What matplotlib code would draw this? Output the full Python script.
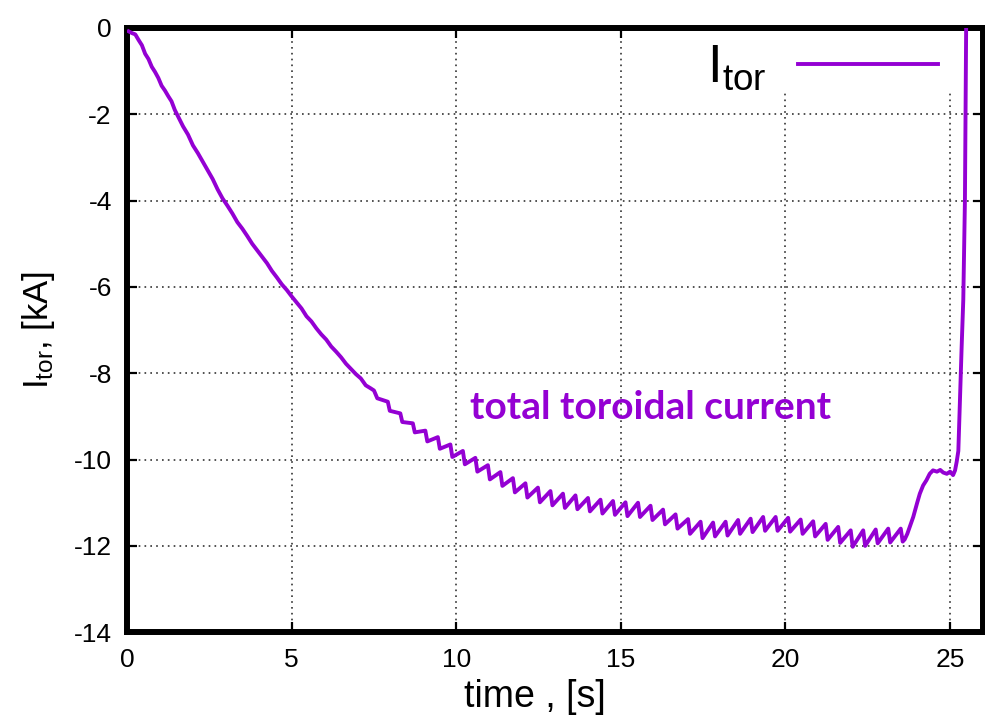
import numpy as np
import matplotlib.pyplot as plt
from matplotlib.patches import Rectangle

plt.rcParams['font.family'] = ['Liberation Sans', 'DejaVu Sans']
plt.rcParams['mathtext.fontset'] = 'custom'
plt.rcParams['mathtext.rm'] = 'Liberation Sans'
plt.rcParams['mathtext.it'] = 'Liberation Sans'
plt.rcParams['axes.unicode_minus'] = False

# time [s] and toroidal current [kA]
time_s = [
    0.05, 0.15, 0.25, 0.35, 0.45, 0.55, 0.65, 0.75, 0.85, 0.95, 1.05, 1.15,
    1.25, 1.35, 1.45, 1.55, 1.70, 1.85, 2.00, 2.15, 2.30, 2.45, 2.60, 2.75,
    2.90, 3.05, 3.20, 3.35, 3.50, 3.65, 3.80, 3.95, 4.10, 4.25, 4.40, 4.55,
    4.70, 4.85, 5.00, 5.15, 5.30, 5.45, 5.60, 5.75, 5.90, 6.05, 6.20, 6.35,
    6.50, 6.65, 6.80, 6.95, 7.10, 7.25, 7.40, 7.50,
    7.60, 7.92, 7.98, 8.30, 8.36, 8.68, 8.74, 9.06, 9.12, 9.44, 9.50, 9.82,
    9.88, 10.20, 10.26, 10.58, 10.64, 10.96, 11.02, 11.34, 11.40, 11.72,
    11.78, 12.10, 12.16, 12.48, 12.54, 12.86, 12.92, 13.24, 13.30, 13.62,
    13.68, 14.00, 14.06, 14.38, 14.44, 14.76, 14.82, 15.14, 15.20, 15.52,
    15.58, 15.90, 15.96, 16.28, 16.34, 16.66, 16.72, 17.04, 17.10, 17.42,
    17.48, 17.80, 17.86, 18.18, 18.24, 18.56, 18.62, 18.94, 19.00, 19.32,
    19.38, 19.70, 19.76, 20.08, 20.14, 20.46, 20.52, 20.84, 20.90, 21.22,
    21.28, 21.60, 21.66, 21.98, 22.04, 22.36, 22.42, 22.74, 22.80, 23.12,
    23.18, 23.50, 23.56,
    23.62, 23.70, 23.80, 23.88, 24.00, 24.08, 24.18, 24.28, 24.38, 24.48,
    24.60, 24.70, 24.79, 24.90, 25.00, 25.09, 25.15, 25.20, 25.25, 25.30,
    25.35, 25.40, 25.45, 25.47, 25.49, 25.52,
]
I_tor = [
    -0.08, -0.12, -0.15, -0.28, -0.40, -0.60, -0.72, -0.90, -1.02, -1.16, -1.34, -1.45,
    -1.58, -1.70, -1.90, -2.05, -2.28, -2.47, -2.72, -2.90, -3.10, -3.30, -3.50, -3.74,
    -3.95, -4.12, -4.30, -4.50, -4.65, -4.82, -5.00, -5.15, -5.30, -5.45, -5.63, -5.78,
    -5.94, -6.07, -6.22, -6.36, -6.50, -6.68, -6.80, -6.96, -7.10, -7.22, -7.38, -7.50,
    -7.63, -7.78, -7.90, -8.02, -8.12, -8.28, -8.35, -8.40,
    -8.58, -8.66, -8.87, -8.93, -9.13, -9.16, -9.37, -9.33, -9.58, -9.48, -9.75, -9.65,
    -9.94, -9.80, -10.11, -9.96, -10.28, -10.13, -10.46, -10.29, -10.61, -10.43,
    -10.76, -10.55, -10.88, -10.65, -10.99, -10.73, -11.06, -10.79, -11.12, -10.83,
    -11.15, -10.89, -11.20, -10.93, -11.25, -10.96, -11.28, -10.99, -11.31, -11.00,
    -11.33, -11.07, -11.40, -11.16, -11.50, -11.27, -11.60, -11.38, -11.72, -11.44,
    -11.82, -11.46, -11.78, -11.44, -11.76, -11.40, -11.72, -11.37, -11.68, -11.33,
    -11.65, -11.33, -11.65, -11.35, -11.67, -11.39, -11.72, -11.43, -11.78, -11.49,
    -11.86, -11.56, -11.93, -11.64, -12.02, -11.64, -12.00, -11.62, -11.94, -11.60,
    -11.92, -11.60, -11.90,
    -11.85, -11.72, -11.50, -11.33, -11.00, -10.79, -10.60, -10.48, -10.33, -10.25,
    -10.28, -10.24, -10.30, -10.33, -10.28, -10.36, -10.25, -10.05, -9.80, -8.60,
    -7.40, -6.30, -4.00, -1.70, 0.30, 1.00,
]

x_ticks = [0, 5, 10, 15, 20, 25]
y_ticks = [0, -2, -4, -6, -8, -10, -12, -14]
purple = '#9400d3'

fig = plt.figure(figsize=(9.85, 7.16), dpi=100)
ax = fig.add_axes([0.129, 0.117, 0.869, 0.844])

ax.plot(time_s, I_tor, color=purple, lw=2.8, zorder=3, label=r'$\mathregular{I_{tor}}$')

ax.set_xlim(0, 26)
ax.set_ylim(-14, 0)
ax.set_xticks(x_ticks)
ax.set_yticks(y_ticks)
ax.tick_params(direction='in', length=7, width=1.6, labelsize=19,
               top=True, right=True, pad=11)
ax.grid(True, linestyle=(0, (1, 2.5)), color='#333333', lw=1.2, zorder=0)
ax.set_axisbelow(True)
for s in ax.spines.values():
    s.set_linewidth(4.3)

# white box behind the key hides the grid there
ax.add_patch(Rectangle((0.611, 0.897), 0.362, 0.103, transform=ax.transAxes,
                       facecolor='white', edgecolor='none', zorder=1))

ax.legend(loc='upper right', bbox_to_anchor=(0.947, 0.975), frameon=False,
          markerfirst=False, fontsize=38, handlelength=2.65, handletextpad=0.6,
          borderpad=0, borderaxespad=0)

ax.set_xlabel('time , [s]', fontsize=27)
ax.set_ylabel(r'$\mathregular{I_{tor}}$, [kA]', fontsize=25)
ax.xaxis.set_label_coords(0.477, -0.108)
ax.xaxis.label.set_va('center')
ax.yaxis.set_label_coords(-0.104, 0.5)
ax.yaxis.label.set_va('center')

ax.text(15.9, -8.8, 'total toroidal current', color=purple, fontsize=28,
        fontweight='bold', family='Lato', ha='center', va='center')

plt.savefig('out.png', dpi=100)
